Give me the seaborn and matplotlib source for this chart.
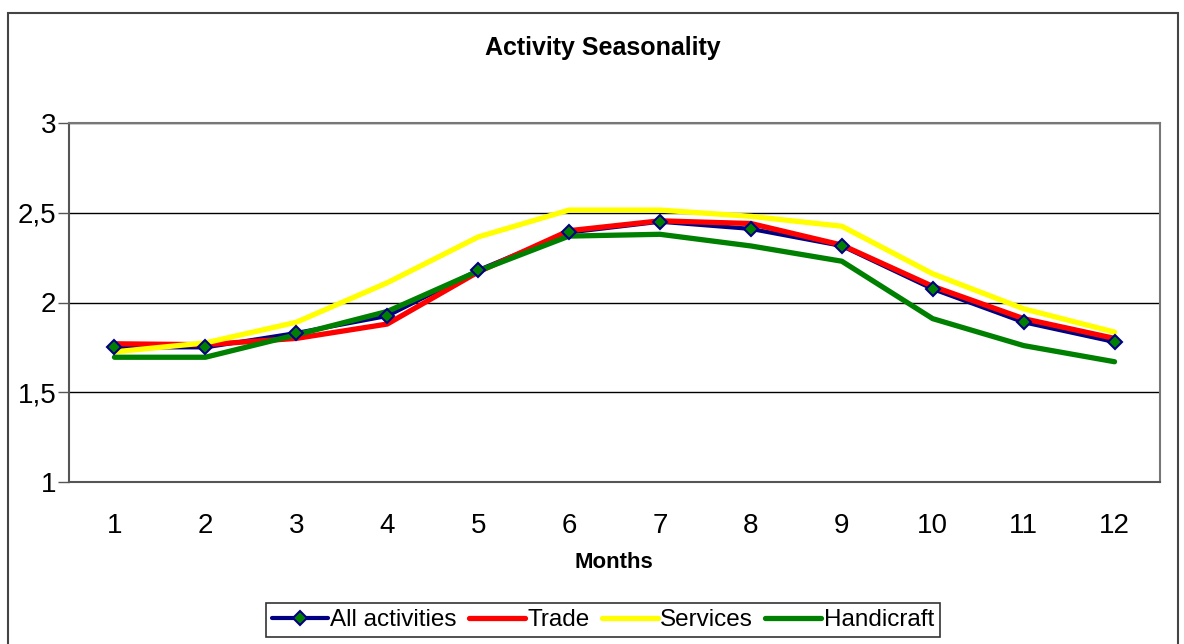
import numpy as np
import pandas as pd
import matplotlib
matplotlib.use("Agg")
import matplotlib.pyplot as plt
from matplotlib.lines import Line2D
from matplotlib.patches import Rectangle
import seaborn as sns

months = [1, 2, 3, 4, 5, 6, 7, 8, 9, 10, 11, 12]
all_activities = [1.75, 1.75, 1.83, 1.925, 2.18, 2.39, 2.45, 2.41, 2.315, 2.075, 1.89, 1.78]
trade = [1.77, 1.765, 1.80, 1.88, 2.17, 2.40, 2.455, 2.44, 2.32, 2.09, 1.91, 1.80]
services = [1.725, 1.775, 1.89, 2.11, 2.365, 2.515, 2.515, 2.48, 2.425, 2.16, 1.965, 1.835]
handicraft = [1.695, 1.695, 1.82, 1.95, 2.175, 2.37, 2.38, 2.315, 2.23, 1.91, 1.76, 1.67]
series_names = ["All activities", "Trade", "Services", "Handicraft"]
y_ticks = [1, 1.5, 2, 2.5, 3]
y_tick_labels = ["1", "1,5", "2", "2,5", "3"]

colors = {"All activities": "#000080", "Trade": "#FF0000",
          "Services": "#FFFF00", "Handicraft": "#008000"}
widths = {"All activities": 3.0, "Trade": 3.8, "Services": 3.8, "Handicraft": 3.8}

rows = []
for name, vals in zip(series_names, [all_activities, trade, services, handicraft]):
    for m, v in zip(months, vals):
        rows.append({"Month": m - 1, "Value": v, "Series": name})
df = pd.DataFrame(rows)

sns.set_theme(style="white")
plt.rcParams["font.family"] = ["Liberation Sans", "DejaVu Sans"]
plt.rcParams["text.color"] = "black"
plt.rcParams["xtick.color"] = "black"
plt.rcParams["ytick.color"] = "black"
plt.rcParams["axes.labelcolor"] = "black"

fig = plt.figure(figsize=(11.84, 6.44), dpi=100)
ax = fig.add_axes([69/1184, 1-482/644, (1160-69)/1184, (482-123)/644])

for i, name in enumerate(series_names):
    sub = df[df["Series"] == name]
    sns.lineplot(data=sub, x="Month", y="Value", color=colors[name],
                 linewidth=widths[name], ax=ax, legend=False, zorder=2 + i,
                 solid_capstyle="round", solid_joinstyle="round")

sub = df[df["Series"] == "All activities"]
ax.plot(sub["Month"], sub["Value"], linestyle="none", marker="D", markersize=7,
        markerfacecolor="#008000", markeredgecolor="#000080", markeredgewidth=1.5,
        zorder=10)

ax.set_xlim(-0.5, 11.5)
ax.set_ylim(1, 3)
ax.set_xticks(np.arange(12))
ax.set_xticklabels([str(m) for m in months], fontsize=20)
ax.set_xticks(np.arange(-0.5, 12, 1), minor=True)
ax.tick_params(axis="x", which="major", length=0, pad=22)
ax.tick_params(axis="x", which="minor", length=8, width=1, color="#555555", direction="out")
ax.set_yticks(y_ticks)
ax.set_yticklabels(y_tick_labels, fontsize=20)
ax.tick_params(axis="y", which="major", length=8, width=1, color="#555555",
               direction="out", left=True, pad=1)
ax.yaxis.grid(True, color="black", linewidth=1)
ax.xaxis.grid(False)
ax.set_axisbelow(True)
for s in ax.spines.values():
    s.set_color("#777777")
    s.set_linewidth(1.5)
ax.spines["left"].set_color("#555555")
ax.spines["bottom"].set_color("#555555")
ax.set_xlabel("")
ax.set_ylabel("")
fig.text(614/1184, 1-562/644, "Months", ha="center", va="center",
         fontsize=16, fontweight="bold")
fig.text(603/1184, 1-48/644, "Activity Seasonality", ha="center", va="center",
         fontsize=18, fontweight="bold")

handles = [
    Line2D([], [], color=colors["All activities"], linewidth=3, marker="D", markersize=7,
           markerfacecolor="#008000", markeredgecolor="#000080", markeredgewidth=1.5),
    Line2D([], [], color=colors["Trade"], linewidth=3.8),
    Line2D([], [], color=colors["Services"], linewidth=3.8),
    Line2D([], [], color=colors["Handicraft"], linewidth=3.8),
]
leg = fig.legend(handles, series_names, loc="center", ncol=4,
                 bbox_to_anchor=(603/1184, 1-620/644), bbox_transform=fig.transFigure,
                 fontsize=17.5, frameon=True, fancybox=False, edgecolor="black",
                 handlelength=2.3, handletextpad=0.1, columnspacing=0.5,
                 borderpad=0.25, borderaxespad=0)
leg.get_frame().set_linewidth(1.2)

fig.patches.append(Rectangle((8/1184, -0.05), 1170/1184, 1.05 - 13/644,
                             transform=fig.transFigure, fill=False,
                             edgecolor="#444444", linewidth=1.5, zorder=0))

fig.savefig("out.png", dpi=100)
